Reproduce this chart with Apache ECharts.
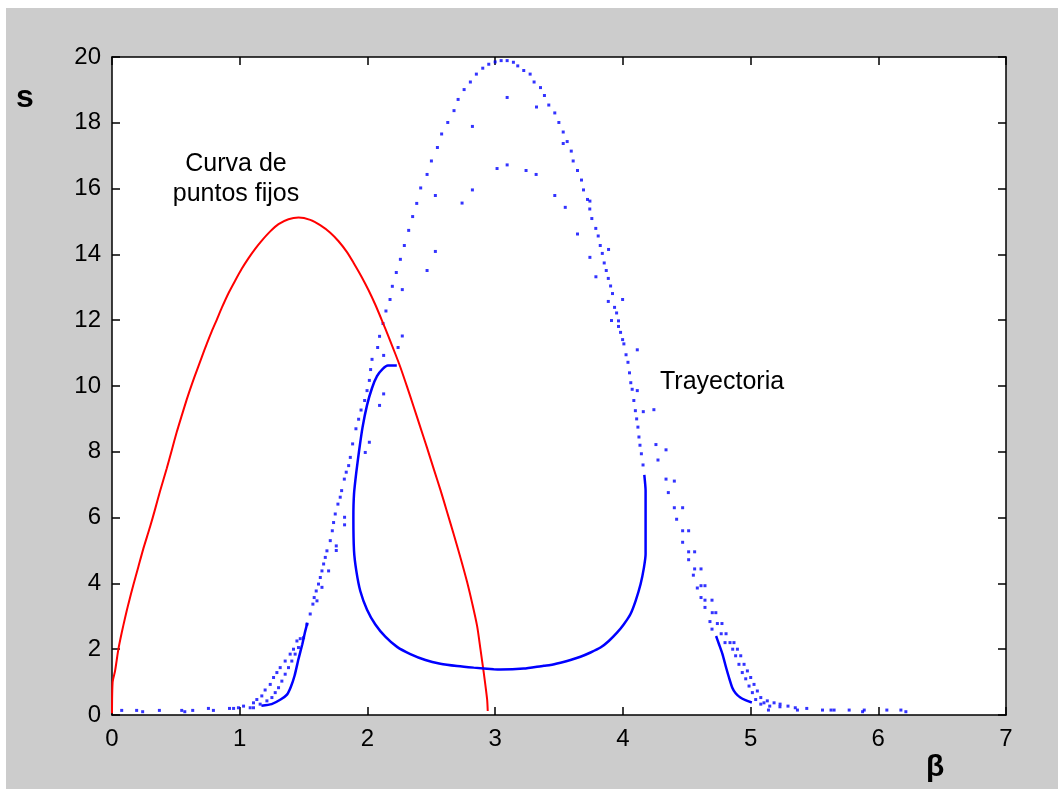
<!DOCTYPE html>
<html>
<head>
<meta charset="utf-8">
<script src="https://cdn.jsdelivr.net/npm/echarts@6/dist/echarts.min.js"></script>
<style>
html,body{margin:0;padding:0;background:#ffffff;}
#chart{position:absolute;left:6px;top:8px;width:1052px;height:781px;background:#cccccc;}
</style>
</head>
<body>
<div id="chart"></div>
<script>
// ---- tick labels ----
const xTicks = [0, 1, 2, 3, 4, 5, 6, 7];
const yTicks = [0, 2, 4, 6, 8, 10, 12, 14, 16, 18, 20];

// ---- red curve: fixed points (beta, s) ----
const fixedPointCurve = [
  [0,0.05],[0.005,1.0],[0.024,1.34],[0.05,2.0],[0.076,2.5],[0.102,2.95],[0.128,3.37],[0.167,3.95],
  [0.206,4.5],[0.245,5.05],[0.298,5.72],[0.337,6.25],[0.376,6.8],[0.429,7.5],[0.468,8.05],[0.507,8.6],
  [0.546,9.1],[0.586,9.6],[0.625,10.05],[0.664,10.47],[0.703,10.88],[0.742,11.28],[0.781,11.66],[0.821,12.02],
  [0.860,12.38],[0.912,12.82],[0.964,13.2],[1.017,13.57],[1.068,13.88],[1.121,14.17],[1.173,14.42],[1.239,14.7],
  [1.304,14.92],[1.382,15.07],[1.461,15.12],[1.552,15.05],[1.630,14.89],[1.709,14.66],[1.774,14.4],[1.840,14.07],
  [1.892,13.74],[1.957,13.3],[2.009,12.91],[2.062,12.47],[2.114,11.99],[2.166,11.49],[2.218,10.98],[2.258,10.57],
  [2.310,9.98],[2.362,9.37],[2.414,8.75],[2.467,8.12],[2.519,7.48],[2.571,6.85],[2.623,6.18],[2.675,5.50],
  [2.728,4.79],[2.780,4.05],[2.820,3.4],[2.859,2.7],[2.885,2.0],[2.911,1.28],[2.937,0.48],[2.942,0.12]
];

// ---- trajectory: dense (solid-looking) parts ----
const innerLoop = [
  [4.168,7.3],[4.178,6.82],[4.178,4.89],[4.165,4.48],[4.139,3.98],[4.10,3.47],[4.06,3.07],[4.008,2.76],
  [3.956,2.51],[3.890,2.25],[3.825,2.05],[3.747,1.90],[3.668,1.77],[3.59,1.67],[3.512,1.59],[3.433,1.52],
  [3.381,1.50],[3.224,1.41],[3.041,1.38],[2.989,1.39],[2.832,1.44],[2.702,1.49],[2.571,1.56],[2.454,1.67],
  [2.336,1.85],[2.232,2.07],[2.140,2.38],[2.062,2.75],[1.997,3.2],[1.944,3.77],[1.913,4.38],[1.895,4.99],
  [1.890,6.0],[1.895,6.72],[1.913,7.38],[1.935,8.04],[1.962,8.75],[1.997,9.42],[2.036,9.94],[2.075,10.3],
  [2.12,10.52],[2.16,10.62],[2.23,10.62]
];
const leftRiseSolid = [
  [1.17,0.28],[1.25,0.33],[1.32,0.47],[1.37,0.62],[1.40,0.85],[1.43,1.2],[1.46,1.7],[1.49,2.15],[1.51,2.5],[1.53,2.8]
];
const rightFallSolid = [
  [4.73,2.40],[4.753,2.15],[4.78,1.85],[4.805,1.49],[4.831,1.14],[4.857,0.83],[4.883,0.66],[4.92,0.53],[4.96,0.45],[5.01,0.38]
];

// ---- trajectory: sparse dots ----
const bottomLeftDots = [
  [0.076,0.14],[0.193,0.14],[0.24,0.10],[0.371,0.14],[0.546,0.14],[0.57,0.10],[0.632,0.14],[0.755,0.20],
  [0.794,0.14],[0.92,0.20],[0.952,0.20],[0.99,0.22],[1.03,0.27]
];
const leftRiseDots = [
  [1.082,0.22],[1.108,0.37],[1.134,0.47],[1.173,0.58],[1.199,0.76],[1.239,0.93],[1.265,1.14],[1.291,1.29],
  [1.317,1.44],[1.356,1.64],[1.395,1.85],[1.421,2.0],
  [1.108,0.22],[1.16,0.33],[1.213,0.43],[1.252,0.53],[1.278,0.68],[1.304,0.83],[1.330,1.03],[1.356,1.24],
  [1.382,1.44],[1.408,1.64],[1.434,1.85],[1.46,2.05],[1.448,2.25],[1.474,2.32]
];
const outerArcDots = [
  [1.50,2.35],[1.526,2.76],[1.552,3.07],[1.573,3.37],[1.583,3.57],[1.599,3.77],[1.617,3.98],[1.631,4.18],
  [1.644,4.38],[1.657,4.59],[1.670,4.79],[1.683,4.99],[1.709,5.30],[1.725,5.60],[1.735,5.85],[1.748,6.11],
  [1.769,6.41],[1.787,6.62],[1.798,6.82],[1.819,7.17],[1.834,7.38],[1.853,7.58],[1.866,7.83],[1.884,8.24],
  [1.910,8.70],[1.931,8.99],[1.950,9.27],[1.978,9.56],[1.997,9.86],[2.015,10.17],[2.025,10.5],[2.036,10.81],
  [2.080,11.17],[2.095,11.51],[2.122,11.9],[2.145,12.28],[2.177,12.63],[2.195,13.03],[2.226,13.45],[2.258,13.85],
  [2.289,14.27],[2.323,14.73],[2.354,15.15],[2.386,15.55],[2.417,16.02],[2.467,16.43],[2.501,16.84],[2.548,17.25],
  [2.581,17.66],[2.629,18.01],[2.678,18.37],[2.710,18.71],[2.757,19.01],[2.806,19.24],[2.853,19.48],[2.903,19.66],
  [2.950,19.78],[3.0,19.85],[3.047,19.89],[3.094,19.89],[3.143,19.84],[3.177,19.73],[3.224,19.59],[3.274,19.48],
  [3.305,19.24],[3.355,19.07],[3.386,18.83],[3.420,18.54],[3.467,18.30],[3.499,18.01],[3.533,17.72],[3.564,17.43],
  [3.596,17.14],[3.611,16.84],[3.645,16.55],[3.676,16.26],[3.692,15.96],[3.723,15.67],[3.741,15.38],[3.757,15.09],
  [3.788,14.79],[3.807,14.56],[3.823,14.27],[3.839,14.03],[3.854,13.74],[3.870,13.51],[3.886,13.27],[3.904,13.04],
  [3.919,12.81],[3.935,12.39],[3.951,12.22],[3.966,11.81],[3.982,11.63],[3.998,11.41],
  [4.008,11.28],[4.025,10.95],[4.040,10.72],[4.052,10.40],[4.062,10.10],[4.073,9.90],[4.086,9.56],[4.098,9.25],
  [4.108,9.0],[4.118,8.75],[4.126,8.45],[4.134,8.20],[4.145,7.94],[4.158,7.6]
];
const innerPassDots = [
  [3.015,16.61],[3.094,16.72],[3.242,16.55],[3.321,16.43],[3.467,15.79],[3.549,15.43],[3.645,14.62],[3.742,13.91],
  [3.789,13.32],[3.886,12.57],[3.888,14.15],[3.998,12.63],[3.966,11.98],[3.911,11.99],[3.742,15.62],
  [2.822,15.96],[2.741,15.56],[2.532,15.79],[2.822,17.89],[3.094,18.77],[3.324,18.48],[3.533,17.37],
  [2.532,14.09],[2.467,13.51],[2.273,12.93],[2.273,11.52],[2.240,11.17],[2.127,10.93],[2.127,9.76],[2.095,9.41],
  [2.015,8.29],[1.983,7.98],[1.821,6.01],[1.821,5.78],[1.756,5.14],[1.756,5.0],[1.696,4.38],[1.644,3.88],[1.605,3.47]
];
const rightFallDots = [
  [4.113,11.10],[4.113,9.86],[4.160,9.22],[4.243,9.28],[4.275,7.75],[4.356,6.76],[4.421,5.95],[4.468,5.25],
  [4.515,4.72],[4.552,4.25],[4.583,3.86],[4.612,3.57],[4.643,3.27],[4.682,2.84],[4.698,2.61],
  [4.259,8.22],[4.338,8.06],[4.338,7.17],[4.403,7.11],[4.403,6.30],[4.468,6.30],[4.468,5.60],[4.515,5.60],
  [4.515,4.96],[4.562,4.96],[4.562,4.44],[4.612,4.44],[4.612,3.93],[4.643,3.93],[4.643,3.49],[4.698,3.49],
  [4.70,3.11],[4.728,3.11],[4.74,2.78],[4.776,2.78],[4.77,2.47],[4.808,2.47],[4.80,2.20],[4.839,2.20],
  [4.86,2.0],[4.883,1.8],[4.909,1.54],[4.935,1.29],[4.962,1.10],[4.988,0.88],[5.014,0.68],[5.04,0.47],[5.08,0.33],
  [4.87,2.2],[4.897,2.0],[4.923,1.80],[4.949,1.54],[4.975,1.34],[5.001,1.14],[5.027,0.93],[5.053,0.73],
  [5.08,0.53],[5.105,0.37]
];
const bottomRightDots = [
  [5.131,0.43],[5.15,0.27],[5.14,0.15],[5.184,0.37],[5.231,0.33],[5.23,0.25],[5.293,0.27],[5.35,0.22],
  [5.367,0.15],[5.44,0.2],[5.563,0.15],[5.63,0.15],[5.654,0.15],[5.772,0.15],[5.877,0.10],[5.89,0.15],
  [6.067,0.15],[6.177,0.15],[6.216,0.10]
];

// ---- text ----
const yAxisName = 's';
const xAxisName = 'β';
const fixedLabel = ['Curva de', 'puntos fijos'];
const trajLabel = 'Trayectoria';

const BLUE = '#0000ff', RED = '#ff0000';
const FONT = 'Liberation Sans, Arial, sans-serif';

const chart = echarts.init(document.getElementById('chart'), null, {renderer: 'canvas'});

function dots(data) {
  return {type: 'scatter', data: data, symbol: 'rect', symbolSize: 3,
    itemStyle: {color: BLUE}, silent: true, z: 3};
}
function solid(data, color, w, sm) {
  return {type: 'line', data: data, showSymbol: false, symbol: 'none', smooth: sm,
    lineStyle: {color: color, width: w}, silent: true, z: 4};
}

const axisCommon = {
  axisLine: {show: true, onZero: false, lineStyle: {color: '#000', width: 1.5}},
  axisTick: {show: true, inside: true, length: 8, lineStyle: {color: '#000', width: 1.5}},
  splitLine: {show: false}
};

chart.setOption({
  animation: false,
  backgroundColor: 'transparent',
  grid: {left: 106, right: 52, top: 49, bottom: 74, show: true, backgroundColor: '#ffffff', borderWidth: 0},
  xAxis: [
    Object.assign({type: 'value', min: 0, max: 7, interval: 1, position: 'bottom',
      axisLabel: {color: '#000', fontSize: 24, fontFamily: FONT, margin: 12,
        formatter: v => xTicks.includes(v) ? String(v) : ''}}, axisCommon),
    Object.assign({type: 'value', min: 0, max: 7, interval: 1, position: 'top',
      axisLabel: {show: false}}, axisCommon)
  ],
  yAxis: [
    Object.assign({type: 'value', min: 0, max: 20, interval: 2, position: 'left',
      axisLabel: {color: '#000', fontSize: 24, fontFamily: FONT, margin: 11,
        formatter: v => yTicks.includes(v) ? String(v) : ''}}, axisCommon),
    Object.assign({type: 'value', min: 0, max: 20, interval: 2, position: 'right',
      axisLabel: {show: false}}, axisCommon)
  ],
  series: [
    solid(fixedPointCurve, RED, 2, 0.25),
    solid(innerLoop, BLUE, 2.5, 0.2),
    solid(leftRiseSolid, BLUE, 2.5, 0.2),
    solid(rightFallSolid, BLUE, 2.5, 0.2),
    dots(bottomLeftDots),
    dots(leftRiseDots),
    dots(outerArcDots),
    dots(innerPassDots),
    dots(rightFallDots),
    dots(bottomRightDots)
  ],
  graphic: [
    {type: 'text', left: 10, top: 74, style: {text: yAxisName, font: 'bold 32px ' + FONT, fill: '#000'}},
    {type: 'text', left: 920, top: 745, style: {text: xAxisName, font: 'bold 30px ' + FONT, fill: '#000'}},
    {type: 'text', x: 230, y: 156, style: {text: fixedLabel[0], font: '25px ' + FONT, fill: '#000',
      textAlign: 'center', textVerticalAlign: 'middle'}},
    {type: 'text', x: 230, y: 186, style: {text: fixedLabel[1], font: '25px ' + FONT, fill: '#000',
      textAlign: 'center', textVerticalAlign: 'middle'}},
    {type: 'text', x: 654, y: 374, style: {text: trajLabel, font: '25px ' + FONT, fill: '#000',
      textAlign: 'left', textVerticalAlign: 'middle'}}
  ]
});
</script>
</body>
</html>
